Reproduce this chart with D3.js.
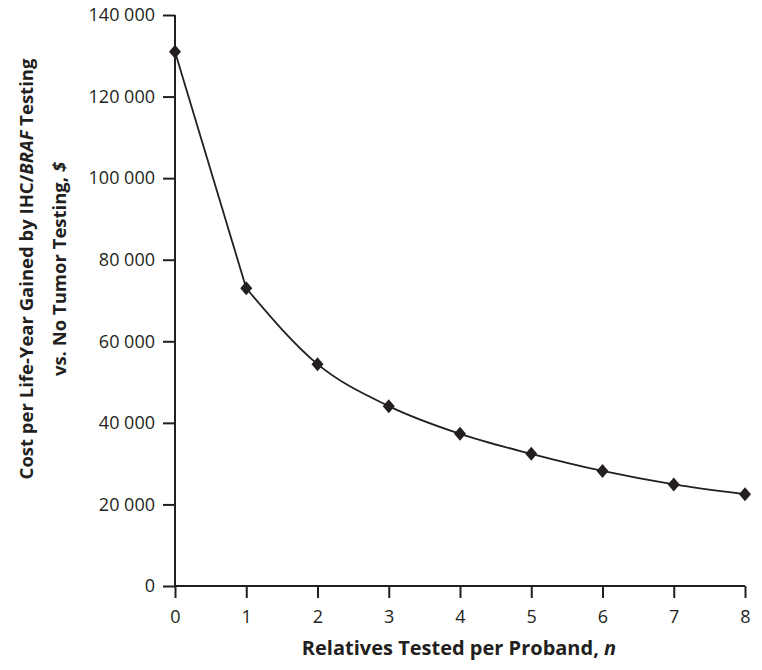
<!DOCTYPE html>
<html>
<head>
<meta charset="utf-8">
<script src="https://cdn.jsdelivr.net/npm/d3@7"></script>
<style>
  body { margin: 0; background: #fff; }
  .axis path, .axis line { stroke: #231f20; stroke-width: 2px; }
  .axis text { font-family: "Open Sans", sans-serif; font-size: 18px; fill: #231f20; }
  .title { font-family: "Open Sans", sans-serif; font-weight: bold; fill: #231f20; }
</style>
</head>
<body>
<svg id="chart"></svg>
<script>
// relatives tested per proband
const relatives = [0, 1, 2, 3, 4, 5, 6, 7, 8];
// cost per life-year gained, $
const costPerLifeYear = [131000, 73000, 54400, 44100, 37300, 32400, 28200, 24900, 22500];
const yTicks = [0, 20000, 40000, 60000, 80000, 100000, 120000, 140000];
const xTicks = [0, 1, 2, 3, 4, 5, 6, 7, 8];

const width = 762, height = 670;
const margin = {top: 15, right: 17, bottom: 84, left: 175};

const svg = d3.select('#chart').attr('width', width).attr('height', height);

const x = d3.scaleLinear().domain([0, 8]).range([margin.left, width - margin.right]);
const y = d3.scaleLinear().domain([0, 140000]).range([height - margin.bottom, margin.top]);

const fmt = d => d3.format(',')(d).replace(/,/g, ' ');

svg.append('g')
    .attr('class', 'axis')
    .attr('transform', `translate(0,${y(0)})`)
    .call(d3.axisBottom(x).tickValues(xTicks).tickSize(12).tickSizeOuter(0).tickPadding(12))
    .call(g => g.select('.domain').attr('d', `M${x(0)},0H${x(8)}`));

svg.append('g')
    .attr('class', 'axis')
    .attr('transform', `translate(${x(0)},0)`)
    .call(d3.axisLeft(y).tickValues(yTicks).tickFormat(fmt).tickSize(12).tickSizeOuter(0).tickPadding(8))
    .call(g => g.select('.domain').attr('d', `M0,${y(0)}V${y(140000)}`));

const points = relatives.map((r, i) => ({r, c: costPerLifeYear[i]}));
const line = d3.line().x(d => x(d.r)).y(d => y(d.c));

// first step is drawn straight, the rest smoothed
svg.append('path')
    .datum(points.slice(0, 2))
    .attr('fill', 'none')
    .attr('stroke', '#231f20')
    .attr('stroke-width', 1.8)
    .attr('d', line);

svg.append('path')
    .datum(points.slice(1))
    .attr('fill', 'none')
    .attr('stroke', '#231f20')
    .attr('stroke-width', 1.8)
    .attr('d', line.curve(d3.curveMonotoneX));

// slightly tall diamond marker
const diamond = {
  draw(ctx, size) {
    const w = Math.sqrt(size) * 0.6, h = Math.sqrt(size) * 0.7;
    ctx.moveTo(0, -h); ctx.lineTo(w, 0); ctx.lineTo(0, h); ctx.lineTo(-w, 0); ctx.closePath();
  }
};

svg.selectAll('.pt')
    .data(points)
    .join('path')
    .attr('class', 'pt')
    .attr('transform', d => `translate(${x(d.r)},${y(d.c)})`)
    .attr('fill', '#231f20')
    .attr('d', d3.symbol().type(diamond).size(100));

// x title
const xt = svg.append('text')
    .attr('class', 'title')
    .attr('font-size', 20)
    .attr('x', 459).attr('y', 655)
    .attr('text-anchor', 'middle');
xt.append('tspan').text('Relatives Tested per Proband, ');
xt.append('tspan').attr('font-style', 'italic').text('n');

// y title
const yt = svg.append('text')
    .attr('class', 'title')
    .attr('font-size', 18.5)
    .attr('transform', 'translate(33,269) rotate(-90)')
    .attr('text-anchor', 'middle');
const l1 = yt.append('tspan').attr('x', 0).attr('y', 0);
l1.append('tspan').text('Cost per Life-Year Gained by IHC/');
l1.append('tspan').attr('font-style', 'italic').text('BRAF');
l1.append('tspan').text(' Testing');
const l2 = yt.append('tspan').attr('x', 0).attr('y', 33);
l2.append('tspan').text('vs. No Tumor Testing, ');
l2.append('tspan').attr('font-style', 'italic').text('$');
</script>
</body>
</html>
